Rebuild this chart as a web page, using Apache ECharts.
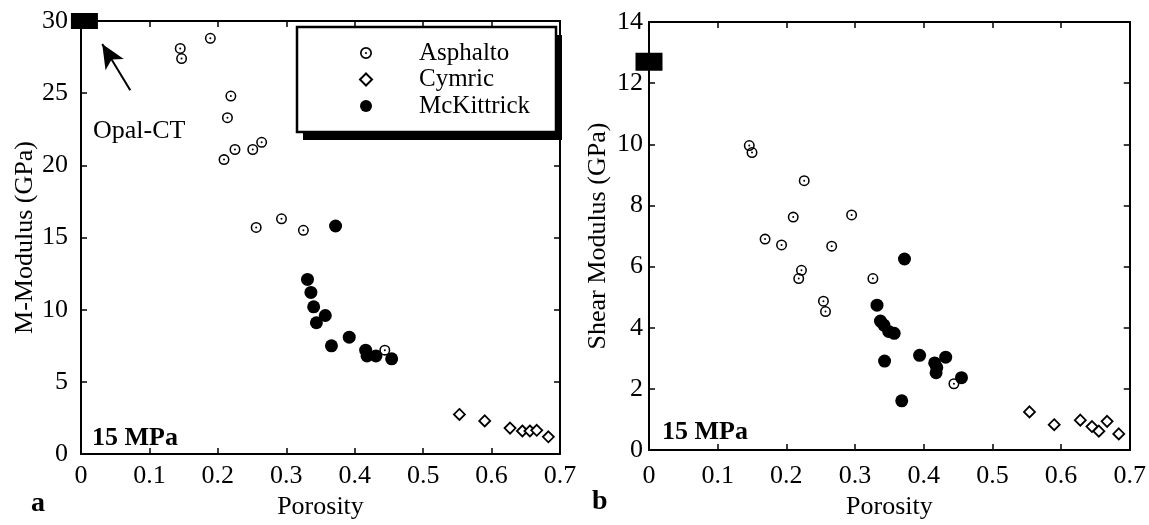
<!DOCTYPE html>
<html>
<head>
<meta charset="utf-8">
<script src="https://cdn.jsdelivr.net/npm/echarts@6/dist/echarts.min.js"></script>
<style>
  html, body { margin: 0; padding: 0; background: #fff; }
  #chart { width: 1149px; height: 525px; }
</style>
</head>
<body>
<div id="chart"></div>
<script>
// porosity vs M-modulus (GPa), panel a
var mAsphalto = [[0.145, 28.1], [0.147, 27.4], [0.189, 28.8], [0.219, 24.8], [0.214, 23.3],
  [0.209, 20.4], [0.225, 21.1], [0.251, 21.1], [0.264, 21.6], [0.256, 15.7], [0.293, 16.3],
  [0.325, 15.5], [0.444, 7.2]];
var mCymric = [[0.553, 2.75], [0.590, 2.3], [0.627, 1.8], [0.645, 1.6], [0.656, 1.6],
  [0.666, 1.65], [0.683, 1.2]];
var mMcKittrick = [[0.372, 15.8], [0.331, 12.1], [0.336, 11.2], [0.340, 10.2], [0.357, 9.6],
  [0.344, 9.1], [0.366, 7.5], [0.392, 8.1], [0.416, 7.2], [0.418, 6.8], [0.431, 6.8], [0.454, 6.6]];
var mOpal = [[0.005, 30]];

// porosity vs shear modulus (GPa), panel b
var sAsphalto = [[0.146, 9.96], [0.150, 9.73], [0.226, 8.81], [0.210, 7.62], [0.295, 7.69],
  [0.169, 6.90], [0.193, 6.71], [0.266, 6.67], [0.218, 5.61], [0.222, 5.88], [0.254, 4.87],
  [0.257, 4.53], [0.326, 5.61], [0.444, 2.17]];
var sCymric = [[0.554, 1.25], [0.590, 0.83], [0.628, 0.98], [0.645, 0.77], [0.655, 0.62],
  [0.667, 0.94], [0.684, 0.53]];
var sMcKittrick = [[0.372, 6.25], [0.332, 4.74], [0.337, 4.22], [0.342, 4.09], [0.349, 3.88],
  [0.357, 3.82], [0.343, 2.91], [0.368, 1.61], [0.394, 3.10], [0.416, 2.85], [0.418, 2.53],
  [0.432, 3.04], [0.455, 2.37], [0.419, 2.7]];
var sOpal = [[0, 12.7]];

var seriesNames = ["Asphalto", "Cymric", "McKittrick"];
var porosityRange = [0, 0.7, 0.1];
var mRange = [0, 30, 5];
var shearRange = [0, 14, 2];

var font = "Liberation Serif";
var ring = "path://M0,-5A5,5,0,1,1,0,5A5,5,0,1,1,0,-5ZM0,-3.6A3.6,3.6,0,1,0,0,3.6A3.6,3.6,0,1,0,0,-3.6ZM0,-0.9A0.9,0.9,0,1,1,0,0.9A0.9,0.9,0,1,1,0,-0.9Z";

var chartDom = document.getElementById("chart");
var myChart = echarts.init(chartDom);
var option;

function xAx(grid, pos, labels, margin) {
  return {
    type: "value", gridIndex: grid, position: pos,
    min: porosityRange[0], max: porosityRange[1], interval: porosityRange[2],
    name: labels ? "Porosity" : "", nameLocation: "middle", nameGap: 37,
    nameTextStyle: { fontFamily: font, fontSize: 26, color: "#000" },
    axisLine: { show: true, onZero: false, lineStyle: { color: "#000", width: 2 } },
    axisTick: { show: true, inside: true, length: 6, lineStyle: { color: "#000", width: 1.5 } },
    axisLabel: { show: labels, margin: margin, fontFamily: font, fontSize: 26, color: "#000" },
    splitLine: { show: false }
  };
}

function yAx(grid, pos, range, name, labels, margin, gap) {
  return {
    type: "value", gridIndex: grid, position: pos,
    min: range[0], max: range[1], interval: range[2],
    name: labels ? name : "", nameLocation: "middle", nameGap: gap,
    nameTextStyle: { fontFamily: font, fontSize: 26, color: "#000" },
    axisLine: { show: true, onZero: false, lineStyle: { color: "#000", width: 2 } },
    axisTick: { show: true, inside: true, length: 6, lineStyle: { color: "#000", width: 1.5 } },
    axisLabel: { show: labels, margin: margin, fontFamily: font, fontSize: 26, color: "#000" },
    splitLine: { show: false }
  };
}

function scatterSet(xi, yi, asph, cym, mck, opal, opalSize) {
  return [
    { name: "Asphalto", type: "scatter", xAxisIndex: xi, yAxisIndex: yi, data: asph,
      symbol: ring, symbolSize: 11, itemStyle: { color: "#000", opacity: 1 } },
    { name: "Cymric", type: "scatter", xAxisIndex: xi, yAxisIndex: yi, data: cym,
      symbol: "diamond", symbolSize: 11,
      itemStyle: { color: "#fff", borderColor: "#000", borderWidth: 1.8, opacity: 1 } },
    { name: "McKittrick", type: "scatter", xAxisIndex: xi, yAxisIndex: yi, data: mck,
      symbol: "circle", symbolSize: 13, itemStyle: { color: "#000", opacity: 1 } },
    { name: "Opal-CT", type: "scatter", xAxisIndex: xi, yAxisIndex: yi, data: opal, clip: false,
      symbol: "rect", symbolSize: opalSize, itemStyle: { color: "#000", opacity: 1 }, z: 5 }
  ];
}

var series = scatterSet(0, 0, mAsphalto, mCymric, mMcKittrick, mOpal, [27, 16])
  .concat(scatterSet(2, 2, sAsphalto, sCymric, sMcKittrick, sOpal, [27, 18]));

// arrow pointing to the Opal-CT marker
series[3].markLine = {
  silent: true, symbol: ["none", "arrow"], symbolSize: [16, 24],
  lineStyle: { color: "#000", width: 2, type: "solid" }, label: { show: false },
  data: [[{ coord: [0.072, 25.2] }, { coord: [0.031, 28.4] }]]
};

option = {
  animation: false,
  backgroundColor: "#fff",
  textStyle: { fontFamily: font, color: "#000" },
  grid: [
    { left: 81, right: 589, top: 21, bottom: 63 },
    { left: 649, right: 16, top: 22, bottom: 72 }
  ],
  xAxis: [
    xAx(0, "bottom", true, 9),
    xAx(0, "top", false, 8),
    xAx(1, "bottom", true, 13),
    xAx(1, "top", false, 8)
  ],
  yAxis: [
    yAx(0, "left", mRange, "M-Modulus (GPa)", true, 13, 42),
    yAx(0, "right", mRange, "", false, 8, 0),
    yAx(1, "left", shearRange, "Shear Modulus (GPa)", true, 6, 38),
    yAx(1, "right", shearRange, "", false, 8, 0)
  ],
  legend: {
    data: seriesNames,
    orient: "vertical",
    left: 359, top: 40, padding: 0,
    itemWidth: 12, itemHeight: 12, itemGap: 0.5,
    textStyle: { fontFamily: font, fontSize: 25, lineHeight: 26, color: "#000", padding: [0, 0, 0, 42] },
    z: 20
  },
  graphic: [
    { type: "rect", shape: { x: 303, y: 35, width: 259, height: 105 }, z: 1,
      style: { fill: "#000" } },
    { type: "rect", shape: { x: 297, y: 27, width: 259, height: 105 }, z: 2,
      style: { fill: "#fff", stroke: "#000", lineWidth: 2.5 } },
    { type: "text", left: 93, top: 118, style: { text: "Opal-CT", font: "26px " + font, fill: "#000" } },
    { type: "text", left: 92, top: 425, style: { text: "15 MPa", font: "bold 26px " + font, fill: "#000" } },
    { type: "text", left: 662, top: 419, style: { text: "15 MPa", font: "bold 26px " + font, fill: "#000" } },
    { type: "text", left: 31, top: 490, style: { text: "a", font: "bold 28px " + font, fill: "#000" } },
    { type: "text", left: 592, top: 488, style: { text: "b", font: "bold 28px " + font, fill: "#000" } }
  ],
  series: series
};

option && myChart.setOption(option);
</script>
</body>
</html>
